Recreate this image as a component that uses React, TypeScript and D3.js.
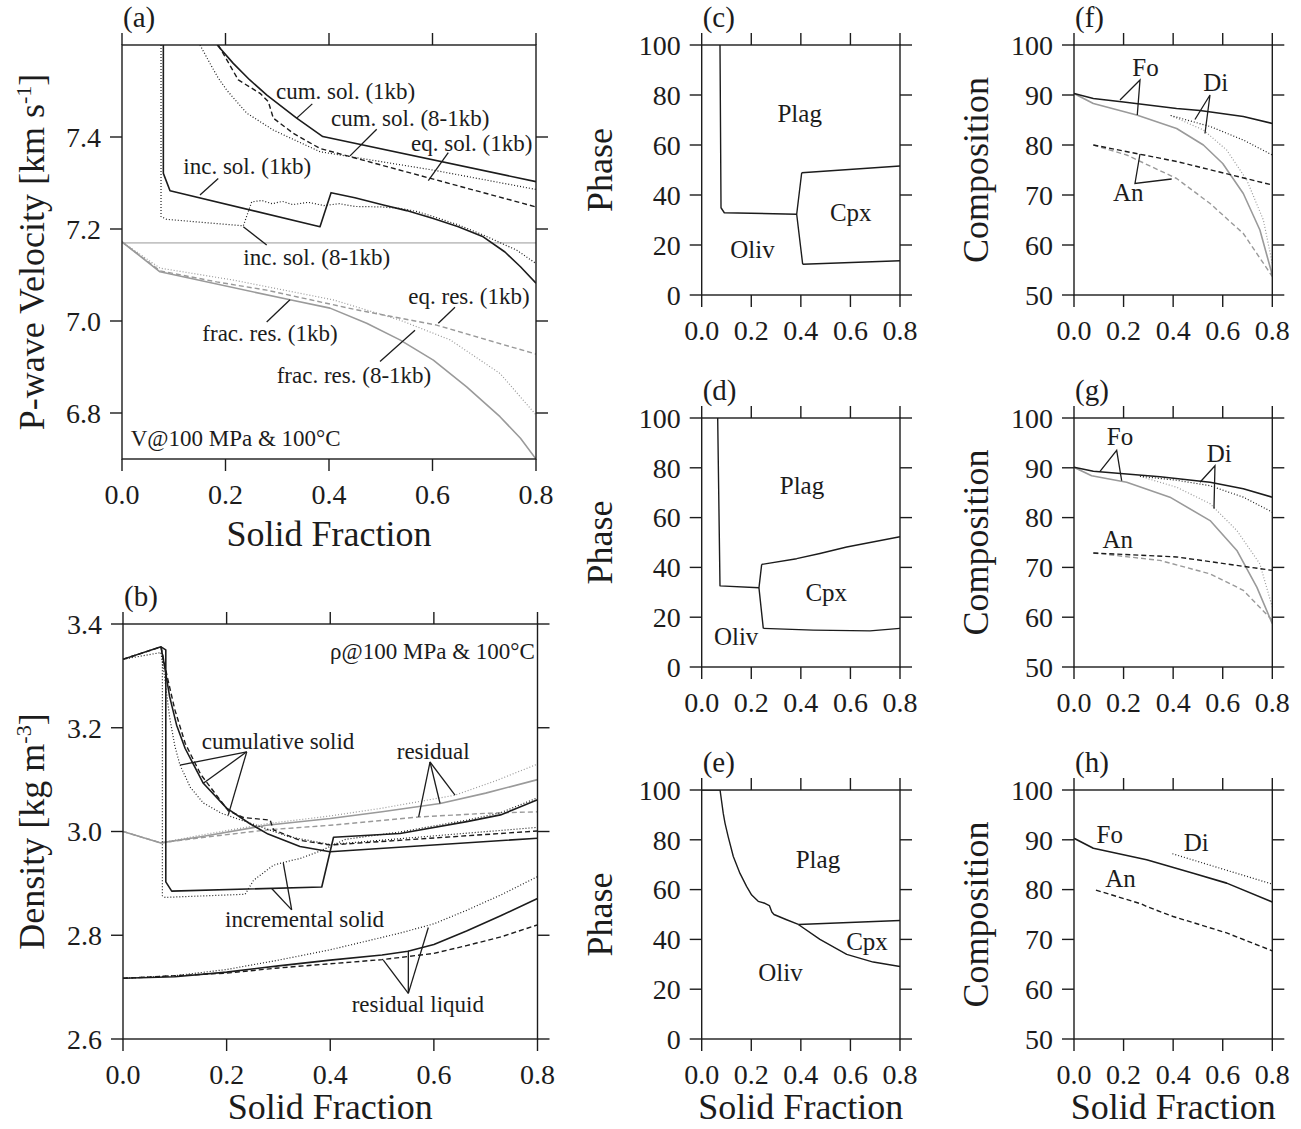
import React from 'react';
import * as d3 from 'd3';

type Pt = [number, number];

// ---------------- shared tick values ----------------
const xTickValues = [0, 0.2, 0.4, 0.6, 0.8];
const velocityTicks = [6.8, 7.0, 7.2, 7.4];
const densityTicks = [2.6, 2.8, 3.0, 3.2, 3.4];
const phaseTicks = [0, 20, 40, 60, 80, 100];
const compositionTicks = [50, 60, 70, 80, 90, 100];

// ---------------- (a) P-wave velocity ----------------
const aCumSol1kb: Pt[] = [[0.184, 7.6], [0.215, 7.56], [0.247, 7.524], [0.28, 7.491], [0.3375, 7.441], [0.388, 7.401], [0.8, 7.303]];
const aCumSol81kb: Pt[] = [[0.1507, 7.6], [0.17, 7.56], [0.185, 7.53], [0.2023, 7.502], [0.241, 7.452], [0.2924, 7.415], [0.3826, 7.368], [0.6016, 7.328], [0.8, 7.286]];
const aEqSol1kb: Pt[] = [[0.186, 7.6], [0.2248, 7.524], [0.2667, 7.495], [0.2827, 7.477], [0.2924, 7.441], [0.331, 7.408], [0.3826, 7.375], [0.8, 7.248]];
const aIncSol1kb: Pt[] = [[0.0799, 7.6], [0.0799, 7.321], [0.0928, 7.283], [0.3826, 7.205], [0.404, 7.279], [0.45, 7.268], [0.505, 7.252], [0.55, 7.24], [0.6016, 7.223], [0.65, 7.205], [0.698, 7.183], [0.74, 7.15], [0.77, 7.118], [0.8, 7.082]];
const aIncSol81kb: Pt[] = [[0.0754, 7.6], [0.0754, 7.227], [0.0863, 7.221], [0.2345, 7.207], [0.2506, 7.259], [0.27, 7.262], [0.29, 7.255], [0.31, 7.26], [0.33, 7.253], [0.36, 7.258], [0.39, 7.251], [0.42, 7.255], [0.45, 7.249], [0.5, 7.248], [0.537, 7.245], [0.57, 7.238], [0.6016, 7.227], [0.65, 7.209], [0.698, 7.187], [0.7627, 7.154], [0.8, 7.125]];
const aLiquidRef: Pt[] = [[0, 7.17], [0.8, 7.17]];
const aFracRes1kb: Pt[] = [[0, 7.172], [0.0734, 7.107], [0.3246, 7.046], [0.402, 7.028], [0.4728, 6.995], [0.537, 6.959], [0.6016, 6.915], [0.666, 6.857], [0.7304, 6.792], [0.77, 6.745], [0.8, 6.7]];
const aFracRes81kb: Pt[] = [[0, 7.172], [0.0734, 7.115], [0.215, 7.089], [0.408, 7.046], [0.537, 7.002], [0.634, 6.959], [0.7304, 6.886], [0.8, 6.796]];
const aEqRes1kb: Pt[] = [[0, 7.172], [0.0734, 7.109], [0.183, 7.085], [0.2796, 7.067], [0.45, 7.025], [0.608, 6.991], [0.8, 6.928]];

// ---------------- (b) Density ----------------
const bCumSol1kb: Pt[] = [[0, 3.332], [0.0733, 3.356], [0.08, 3.32], [0.09, 3.26], [0.1035, 3.205], [0.12, 3.16], [0.155, 3.093], [0.2, 3.045], [0.245, 3.015], [0.28, 2.995], [0.3416, 2.971], [0.3995, 2.961], [0.8, 2.987]];
const bCumSol81kb: Pt[] = [[0, 3.332], [0.0733, 3.345], [0.08, 3.3], [0.09, 3.22], [0.1, 3.165], [0.11, 3.128], [0.13, 3.085], [0.155, 3.055], [0.19, 3.035], [0.2576, 3.012], [0.32, 2.99], [0.4, 2.975], [0.8, 3.008]];
const bEqSol1kb: Pt[] = [[0, 3.332], [0.0733, 3.356], [0.085, 3.3], [0.1, 3.235], [0.12, 3.17], [0.15, 3.11], [0.2032, 3.04], [0.232, 3.027], [0.284, 3.022], [0.2906, 3.003], [0.3416, 2.983], [0.4, 2.974], [0.8, 3.001]];
const bIncSol1kb: Pt[] = [[0.0733, 3.356], [0.0826, 3.35], [0.0826, 2.903], [0.094, 2.885], [0.3836, 2.893], [0.4063, 2.989], [0.5346, 2.996], [0.6635, 3.019], [0.7286, 3.032], [0.8, 3.061]];
const bIncSol81kb: Pt[] = [[0.0733, 3.345], [0.076, 3.34], [0.076, 2.876], [0.0815, 2.873], [0.2357, 2.879], [0.252, 2.906], [0.2903, 2.935], [0.316, 2.942], [0.3417, 2.948], [0.38, 2.962], [0.43, 2.985], [0.5346, 2.999], [0.6635, 3.022], [0.7286, 3.036], [0.8, 3.065]];
const bResFrac: Pt[] = [[0, 3.0], [0.073, 2.978], [0.15, 2.99], [0.277, 3.012], [0.4, 3.025], [0.5, 3.038], [0.612, 3.054], [0.7, 3.074], [0.8, 3.1]];
const bResFrac81: Pt[] = [[0, 3.0], [0.073, 2.978], [0.15, 2.993], [0.277, 3.015], [0.4, 3.03], [0.5, 3.045], [0.6408, 3.07], [0.72, 3.098], [0.8, 3.13]];
const bResEq: Pt[] = [[0, 3.0], [0.073, 2.978], [0.15, 2.988], [0.277, 3.003], [0.4, 3.012], [0.5707, 3.028], [0.7, 3.035], [0.8, 3.038]];
const bLiqFrac: Pt[] = [[0, 2.717], [0.1, 2.72], [0.2, 2.729], [0.3, 2.741], [0.4, 2.752], [0.5, 2.762], [0.55, 2.769], [0.6, 2.782], [0.663, 2.808], [0.73, 2.838], [0.8, 2.871]];
const bLiqFrac81: Pt[] = [[0, 2.717], [0.1, 2.722], [0.2, 2.734], [0.3, 2.752], [0.4, 2.772], [0.534, 2.804], [0.6, 2.822], [0.663, 2.848], [0.73, 2.878], [0.8, 2.913]];
const bLiqEq: Pt[] = [[0, 2.717], [0.2, 2.727], [0.3, 2.737], [0.4, 2.745], [0.5, 2.753], [0.6, 2.765], [0.663, 2.78], [0.73, 2.797], [0.8, 2.82]];

// ---------------- (c)(d)(e) Phase proportions ----------------
const cOlivPlag: Pt[] = [[0.0738, 100], [0.0779, 34.9], [0.0912, 32.9], [0.3832, 32.3]];
const cCpxLeft: Pt[] = [[0.4034, 48.9], [0.3832, 32.3], [0.4074, 12.3]];
const cCpxTop: Pt[] = [[0.4034, 48.9], [0.8, 51.6]];
const cCpxBottom: Pt[] = [[0.4074, 12.3], [0.8, 13.7]];

const dOlivPlag: Pt[] = [[0.0645, 100], [0.0738, 32.6], [0.231, 31.8]];
const dCpxLeft: Pt[] = [[0.242, 41.2], [0.231, 31.8], [0.2485, 15.5]];
const dCpxTop: Pt[] = [[0.242, 41.2], [0.383, 43.5], [0.477, 45.6], [0.585, 48.2], [0.8, 52.3]];
const dCpxBottom: Pt[] = [[0.2485, 15.5], [0.45, 14.8], [0.679, 14.5], [0.8, 15.5]];

const eOlivPlag: Pt[] = [[0, 100], [0.074, 100], [0.087, 90.6], [0.094, 86.7], [0.107, 81.2], [0.1275, 73.3], [0.1545, 66.5], [0.181, 61.3], [0.2017, 57.8], [0.228, 55.3], [0.255, 54.5], [0.273, 53.6], [0.283, 51], [0.2917, 50], [0.34, 48], [0.39, 46]];
const eCpxTop: Pt[] = [[0.39, 46], [0.8, 47.6]];
const eCpxBottom: Pt[] = [[0.39, 46], [0.477, 40], [0.585, 34], [0.692, 30.9], [0.8, 29.1]];

// ---------------- (f)(g)(h) Composition ----------------
const fFoEq: Pt[] = [[0, 90.3], [0.078, 89.3], [0.2, 88.6], [0.414, 87.3], [0.508, 86.9], [0.683, 85.7], [0.8, 84.3]];
const fFoFrac: Pt[] = [[0, 90.3], [0.078, 88.3], [0.253, 86], [0.414, 83.3], [0.522, 80], [0.6, 76.3], [0.683, 70.3], [0.75, 63], [0.8, 54]];
const fDiEq: Pt[] = [[0.39, 85.9], [0.549, 83.7], [0.683, 81], [0.8, 78]];
const fDiFrac: Pt[] = [[0.39, 85.9], [0.522, 83], [0.616, 79], [0.697, 73], [0.764, 65], [0.8, 56.3]];
const fAnEq: Pt[] = [[0.078, 80], [0.414, 76.7], [0.8, 72]];
const fAnFrac: Pt[] = [[0.078, 80], [0.2125, 78], [0.414, 73.3], [0.549, 68.3], [0.683, 62.3], [0.8, 53.7]];

const gFoEq: Pt[] = [[0, 90.1], [0.078, 89.3], [0.347, 88.2], [0.549, 87.1], [0.683, 85.8], [0.8, 84.1]];
const gFoFrac: Pt[] = [[0, 90.1], [0.071, 88.4], [0.2125, 87.1], [0.387, 84.1], [0.549, 79.4], [0.657, 73.4], [0.738, 66], [0.8, 58.7]];
const gDiEq: Pt[] = [[0.266, 88.3], [0.414, 87.5], [0.549, 86.4], [0.683, 84.1], [0.8, 81.1]];
const gDiFrac: Pt[] = [[0.266, 88.3], [0.414, 86.1], [0.549, 82.8], [0.657, 77.4], [0.75, 70.7], [0.8, 62]];
const gAnEq: Pt[] = [[0.078, 72.9], [0.414, 72.1], [0.8, 69.4]];
const gAnFrac: Pt[] = [[0.078, 72.9], [0.347, 71.4], [0.549, 68.7], [0.683, 65.4], [0.8, 59.4]];

const hFo: Pt[] = [[0, 90.3], [0.078, 88.3], [0.293, 86], [0.481, 83.3], [0.616, 81.3], [0.8, 77.5]];
const hDi: Pt[] = [[0.397, 87.2], [0.8, 81.1]];
const hAn: Pt[] = [[0.0885, 79.9], [0.273, 77.1], [0.293, 76.6], [0.4, 74.6], [0.616, 71.3], [0.8, 67.7]];

// ---------------- styles ----------------
const INK = '#1c1c1c';
const GRAY = '#9a9a9a';
type LineStyle = { stroke: string; strokeWidth: number; strokeDasharray?: string };
const ST: Record<string, LineStyle> = {
  kSolid: { stroke: INK, strokeWidth: 1.6 },
  kDot: { stroke: INK, strokeWidth: 1.2, strokeDasharray: '1 2' },
  kDash: { stroke: INK, strokeWidth: 1.4, strokeDasharray: '5 3' },
  gSolid: { stroke: GRAY, strokeWidth: 1.6 },
  gDot: { stroke: GRAY, strokeWidth: 1.2, strokeDasharray: '1 2' },
  gDash: { stroke: GRAY, strokeWidth: 1.4, strokeDasharray: '5 3' },
  gLight: { stroke: '#c4c4c4', strokeWidth: 1.8 },
  bound: { stroke: INK, strokeWidth: 1.4 },
};

const FONT = '"Liberation Serif", "Times New Roman", Times, serif';
const TICK_FS = 28;
const TITLE_FS = 36;

type Series = { data: Pt[]; style: LineStyle };
type Label = { at: Pt; text: string; anchor?: 'start' | 'middle' | 'end'; size?: number };
type Box = { x0: number; x1: number; y0: number; y1: number };

type PanelProps = {
  id: string;
  box: Box;
  yDomain: [number, number];
  yTicks: number[];
  yFormat: (v: number) => string;
  letter: string;
  yTitle: React.ReactNode;
  yTitleX: number;
  xTitle?: boolean;
  xTitleDy?: number;
  series: Series[];
  labels: Label[];
  leaders: Pt[][];
  labelSize: number;
};

function Panel(p: PanelProps) {
  const { box } = p;
  const x = d3.scaleLinear().domain([0, 0.8]).range([box.x0, box.x1]);
  const y = d3.scaleLinear().domain(p.yDomain).range([box.y1, box.y0]);
  const line = d3.line<Pt>().x((d) => x(d[0])).y((d) => y(d[1]));
  const TL = 12;
  const cx = (box.x0 + box.x1) / 2;
  const cy = (box.y0 + box.y1) / 2;
  return (
    <g>
      <defs>
        <clipPath id={`clip-${p.id}`}>
          <rect x={box.x0} y={box.y0} width={box.x1 - box.x0} height={box.y1 - box.y0} />
        </clipPath>
      </defs>
      <g clipPath={`url(#clip-${p.id})`} fill="none" strokeLinejoin="round">
        {p.series.map((s, i) => (
          <path key={i} d={line(s.data) || ''} stroke={s.style.stroke} strokeWidth={s.style.strokeWidth}
            strokeDasharray={s.style.strokeDasharray} />
        ))}
      </g>
      {p.leaders.map((l, i) => (
        <path key={`ld${i}`} d={line(l) || ''} fill="none" stroke={INK} strokeWidth={1.3} />
      ))}
      {p.labels.map((l, i) => (
        <text key={`lb${i}`} x={x(l.at[0])} y={y(l.at[1])} textAnchor={l.anchor || 'start'}
          fontSize={l.size || p.labelSize} fill={INK} fontFamily={FONT}>{l.text}</text>
      ))}
      <rect x={box.x0} y={box.y0} width={box.x1 - box.x0} height={box.y1 - box.y0} fill="none" stroke={INK} strokeWidth={1.4} />
      {xTickValues.map((t) => (
        <g key={`xt${t}`} stroke={INK} strokeWidth={1.4}>
          <line x1={x(t)} x2={x(t)} y1={box.y0} y2={box.y0 - TL} />
          <line x1={x(t)} x2={x(t)} y1={box.y1} y2={box.y1 + TL} />
        </g>
      ))}
      {xTickValues.map((t) => (
        <text key={`xl${t}`} x={x(t)} y={box.y1 + 45} textAnchor="middle" fontSize={TICK_FS} fill={INK} fontFamily={FONT}>
          {d3.format('.1f')(t)}
        </text>
      ))}
      {p.yTicks.map((t) => (
        <g key={`yt${t}`} stroke={INK} strokeWidth={1.4}>
          <line x1={box.x0 - TL} x2={box.x0} y1={y(t)} y2={y(t)} />
          <line x1={box.x1} x2={box.x1 + TL} y1={y(t)} y2={y(t)} />
        </g>
      ))}
      {p.yTicks.map((t) => (
        <text key={`yl${t}`} x={box.x0 - 21} y={y(t)} dy="0.35em" textAnchor="end" fontSize={TICK_FS} fill={INK} fontFamily={FONT}>
          {p.yFormat(t)}
        </text>
      ))}
      <text x={box.x0 + 1} y={box.y0 - 18} fontSize={29} fill={INK} fontFamily={FONT}>{p.letter}</text>
      <text transform={`translate(${p.yTitleX},${cy}) rotate(-90)`} textAnchor="middle" fontSize={TITLE_FS} fill={INK} fontFamily={FONT}>
        {p.yTitle}
      </text>
      {p.xTitle && (
        <text x={cx} y={box.y1 + (p.xTitleDy || 80)} textAnchor="middle" fontSize={TITLE_FS} fill={INK} fontFamily={FONT}>
          Solid Fraction
        </text>
      )}
    </g>
  );
}

const f1 = d3.format('.1f');
const f0 = d3.format('d');

export default function App() {
  React.useLayoutEffect(() => {
    document.body.style.margin = '0';
  }, []);
  const W = 1301;
  const H = 1129;
  const colM = { x0: 701.7, x1: 900 };
  const colR = { x0: 1074, x1: 1272.3 };
  const rows = [{ y0: 45, y1: 295 }, { y0: 418, y1: 667 }, { y0: 790, y1: 1039 }];

  const velTitle = (
    <>
      <tspan>P-wave Velocity [km s</tspan>
      <tspan dy={-13} fontSize={22}>-1</tspan>
      <tspan dy={13}>]</tspan>
    </>
  );
  const denTitle = (
    <>
      <tspan>Density [kg m</tspan>
      <tspan dy={-13} fontSize={22}>-3</tspan>
      <tspan dy={13}>]</tspan>
    </>
  );

  return (
    <svg width={W} height={H} style={{ display: 'block', background: '#fff' }} xmlns="http://www.w3.org/2000/svg">
      <style>{`body{margin:0}`}</style>
      <rect x={0} y={0} width={W} height={H} fill="#fff" />
      {/* (a) */}
      <Panel
        id="a" box={{ x0: 122, x1: 536, y0: 45, y1: 459 }} yDomain={[6.7, 7.6]} yTicks={velocityTicks} yFormat={f1}
        letter="(a)" yTitle={velTitle} yTitleX={44} xTitle xTitleDy={87} labelSize={23}
        series={[
          { data: aLiquidRef, style: ST.gLight },
          { data: aFracRes1kb, style: ST.gSolid },
          { data: aFracRes81kb, style: ST.gDot },
          { data: aEqRes1kb, style: ST.gDash },
          { data: aCumSol1kb, style: ST.kSolid },
          { data: aCumSol81kb, style: ST.kDot },
          { data: aEqSol1kb, style: ST.kDash },
          { data: aIncSol1kb, style: ST.kSolid },
          { data: aIncSol81kb, style: ST.kDot },
        ]}
        labels={[
          { at: [0.2976, 7.483], text: 'cum. sol. (1kb)' },
          { at: [0.4039, 7.424], text: 'cum. sol. (8-1kb)' },
          { at: [0.5585, 7.37], text: 'eq. sol. (1kb)' },
          { at: [0.1185, 7.32], text: 'inc. sol. (1kb)' },
          { at: [0.2344, 7.122], text: 'inc. sol. (8-1kb)' },
          { at: [0.5532, 7.037], text: 'eq. res. (1kb)' },
          { at: [0.1552, 6.957], text: 'frac. res. (1kb)' },
          { at: [0.2989, 6.865], text: 'frac. res. (8-1kb)' },
          { at: [0.0168, 6.728], text: 'V@100 MPa & 100°C' },
        ]}
        leaders={[
          [[0.3677, 7.472], [0.3376, 7.441]],
          [[0.4922, 7.417], [0.4406, 7.359]],
          [[0.6305, 7.366], [0.5919, 7.305]],
          [[0.186, 7.31], [0.1507, 7.274]],
          [[0.2796, 7.165], [0.2344, 7.205]],
          [[0.6435, 7.03], [0.6112, 6.995]],
          [[0.2796, 6.998], [0.3246, 7.046]],
          [[0.4986, 6.912], [0.5662, 6.98]],
        ]}
      />
      {/* (b) */}
      <Panel
        id="b" box={{ x0: 123, x1: 537.5, y0: 624, y1: 1039 }} yDomain={[2.6, 3.4]} yTicks={densityTicks} yFormat={f1}
        letter="(b)" yTitle={denTitle} yTitleX={44} xTitle xTitleDy={80} labelSize={23}
        series={[
          { data: bResFrac, style: ST.gSolid },
          { data: bResFrac81, style: ST.gDot },
          { data: bResEq, style: ST.gDash },
          { data: bLiqFrac, style: ST.kSolid },
          { data: bLiqFrac81, style: ST.kDot },
          { data: bLiqEq, style: ST.kDash },
          { data: bCumSol1kb, style: ST.kSolid },
          { data: bCumSol81kb, style: ST.kDot },
          { data: bEqSol1kb, style: ST.kDash },
          { data: bIncSol1kb, style: ST.kSolid },
          { data: bIncSol81kb, style: ST.kDot },
        ]}
        labels={[
          { at: [0.795, 3.332], text: 'ρ@100 MPa & 100°C', anchor: 'end' },
          { at: [0.1519, 3.159], text: 'cumulative solid' },
          { at: [0.5283, 3.139], text: 'residual' },
          { at: [0.1969, 2.816], text: 'incremental solid' },
          { at: [0.4414, 2.652], text: 'residual liquid' },
        ]}
        leaders={[
          [[0.2388, 3.1536], [0.11, 3.128]],
          [[0.2388, 3.1536], [0.155, 3.093]],
          [[0.2388, 3.1536], [0.2032, 3.032]],
          [[0.5926, 3.134], [0.5707, 3.028]],
          [[0.5926, 3.134], [0.6119, 3.054]],
          [[0.5926, 3.134], [0.6408, 3.07]],
          [[0.3256, 2.849], [0.287, 2.89]],
          [[0.3256, 2.849], [0.3094, 2.939]],
          [[0.5507, 2.688], [0.5024, 2.752]],
          [[0.5507, 2.688], [0.5507, 2.77]],
          [[0.5507, 2.688], [0.5893, 2.815]],
        ]}
      />
      {/* (c) */}
      <Panel
        id="c" box={{ ...colM, ...rows[0] }} yDomain={[0, 100]} yTicks={phaseTicks} yFormat={f0}
        letter="(c)" yTitle="Phase" yTitleX={612} labelSize={25}
        series={[cOlivPlag, cCpxLeft, cCpxTop, cCpxBottom].map((d) => ({ data: d, style: ST.bound }))}
        labels={[
          { at: [0.3953, 69.2], text: 'Plag', anchor: 'middle' },
          { at: [0.205, 14.8], text: 'Oliv', anchor: 'middle' },
          { at: [0.6015, 29.6], text: 'Cpx', anchor: 'middle' },
        ]}
        leaders={[]}
      />
      {/* (d) */}
      <Panel
        id="d" box={{ ...colM, ...rows[1] }} yDomain={[0, 100]} yTicks={phaseTicks} yFormat={f0}
        letter="(d)" yTitle="Phase" yTitleX={612} labelSize={25}
        series={[dOlivPlag, dCpxLeft, dCpxTop, dCpxBottom].map((d) => ({ data: d, style: ST.bound }))}
        labels={[
          { at: [0.4046, 69.5], text: 'Plag', anchor: 'middle' },
          { at: [0.5026, 26.4], text: 'Cpx', anchor: 'middle' },
          { at: [0.139, 8.7], text: 'Oliv', anchor: 'middle' },
        ]}
        leaders={[]}
      />
      {/* (e) */}
      <Panel
        id="e" box={{ ...colM, ...rows[2] }} yDomain={[0, 100]} yTicks={phaseTicks} yFormat={f0}
        letter="(e)" yTitle="Phase" yTitleX={612} xTitle xTitleDy={80} labelSize={25}
        series={[eOlivPlag, eCpxTop, eCpxBottom].map((d) => ({ data: d, style: ST.bound }))}
        labels={[
          { at: [0.469, 68.7], text: 'Plag', anchor: 'middle' },
          { at: [0.667, 35.7], text: 'Cpx', anchor: 'middle' },
          { at: [0.318, 23.3], text: 'Oliv', anchor: 'middle' },
        ]}
        leaders={[]}
      />
      {/* (f) */}
      <Panel
        id="f" box={{ ...colR, ...rows[0] }} yDomain={[50, 100]} yTicks={compositionTicks} yFormat={f0}
        letter="(f)" yTitle="Composition" yTitleX={988} labelSize={25}
        series={[
          { data: fFoFrac, style: ST.gSolid },
          { data: fDiFrac, style: ST.gDot },
          { data: fAnFrac, style: ST.gDash },
          { data: fFoEq, style: ST.kSolid },
          { data: fDiEq, style: ST.kDot },
          { data: fAnEq, style: ST.kDash },
        ]}
        labels={[
          { at: [0.2884, 93.8], text: 'Fo', anchor: 'middle' },
          { at: [0.572, 90.8], text: 'Di', anchor: 'middle' },
          { at: [0.219, 68.8], text: 'An', anchor: 'middle' },
        ]}
        leaders={[
          [[0.1856, 89], [0.2663, 93], [0.2553, 86]],
          [[0.488, 85.1], [0.5486, 90], [0.5284, 82.3]],
          [[0.2662, 78.2], [0.246, 72.3], [0.394, 73.2]],
        ]}
      />
      {/* (g) */}
      <Panel
        id="g" box={{ ...colR, ...rows[1] }} yDomain={[50, 100]} yTicks={compositionTicks} yFormat={f0}
        letter="(g)" yTitle="Composition" yTitleX={988} labelSize={25}
        series={[
          { data: gFoFrac, style: ST.gSolid },
          { data: gDiFrac, style: ST.gDot },
          { data: gAnFrac, style: ST.gDash },
          { data: gFoEq, style: ST.kSolid },
          { data: gDiEq, style: ST.kDot },
          { data: gAnEq, style: ST.kDash },
        ]}
        labels={[
          { at: [0.1856, 94.6], text: 'Fo', anchor: 'middle' },
          { at: [0.5857, 91.2], text: 'Di', anchor: 'middle' },
          { at: [0.1763, 73.8], text: 'An', anchor: 'middle' },
        ]}
        leaders={[
          [[0.1049, 89.3], [0.1722, 93.5], [0.1924, 87.4]],
          [[0.5083, 87.1], [0.5687, 90.4], [0.5647, 81.8]],
        ]}
      />
      {/* (h) */}
      <Panel
        id="h" box={{ ...colR, ...rows[2] }} yDomain={[50, 100]} yTicks={compositionTicks} yFormat={f0}
        letter="(h)" yTitle="Composition" yTitleX={988} xTitle xTitleDy={80} labelSize={25}
        series={[
          { data: hFo, style: ST.kSolid },
          { data: hDi, style: ST.kDot },
          { data: hAn, style: ST.kDash },
        ]}
        labels={[
          { at: [0.144, 89.4], text: 'Fo', anchor: 'middle' },
          { at: [0.4929, 87.8], text: 'Di', anchor: 'middle' },
          { at: [0.1876, 80.5], text: 'An', anchor: 'middle' },
        ]}
        leaders={[]}
      />
    </svg>
  );
}
